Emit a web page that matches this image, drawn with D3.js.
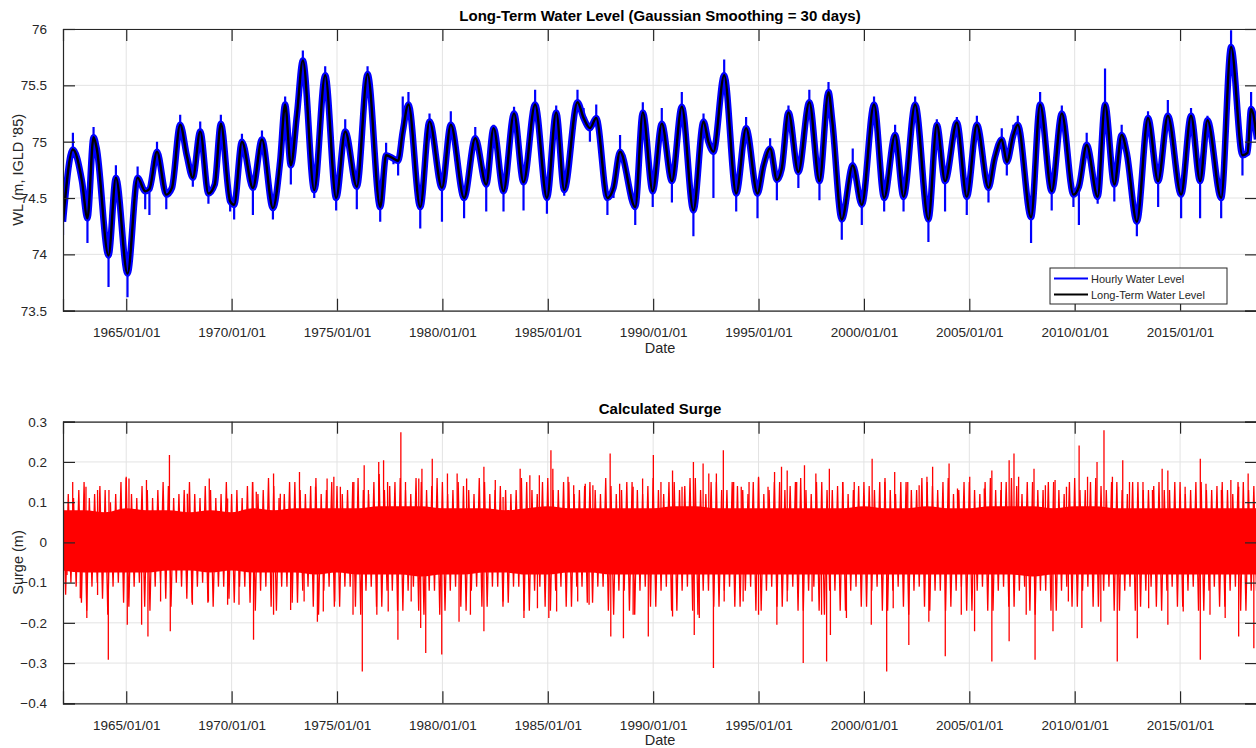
<!DOCTYPE html>
<html>
<head>
<meta charset="utf-8">
<script src="https://cdn.jsdelivr.net/npm/d3@7/dist/d3.min.js"></script>
<style>
  html, body { margin: 0; padding: 0; background: #fff; }
  svg { display: block; font-family: "Liberation Sans", Arial, sans-serif; }
</style>
</head>
<body>
<svg id="chart" width="1256" height="748"></svg>
<script>
// ---------------- DATA ----------------
const xTickYears = [1965, 1970, 1975, 1980, 1985, 1990, 1995, 2000, 2005, 2010, 2015];
const wlTicks = [73.5, 74, 74.5, 75, 75.5, 76];
const surgeTicks = [-0.4, -0.3, -0.2, -0.1, 0, 0.1, 0.2, 0.3];

// Long-term (smoothed) water level key points (decimal year, m)
const ltYears = [1962.00,1962.47,1962.90,1963.16,1963.45,1963.60,1964.16,1964.51,1965.06,1965.54,1965.90,1966.10,1966.46,1966.90,1967.17,1967.56,1967.88,1968.16,1968.51,1968.90,1969.20,1969.49,1969.93,1970.12,1970.49,1971.01,1971.44,1971.96,1972.30,1972.54,1972.81,1973.10,1973.38,1973.92,1974.44,1974.96,1975.39,1975.94,1976.45,1977.05,1977.33,1977.68,1977.90,1978.12,1978.39,1978.95,1979.39,1979.98,1980.40,1981.03,1981.56,1982.08,1982.43,1982.90,1983.40,1983.85,1984.40,1984.96,1985.40,1985.78,1986.41,1986.70,1987.00,1987.30,1987.83,1988.12,1988.43,1989.15,1989.51,1989.98,1990.41,1990.89,1991.36,1991.91,1992.39,1992.62,1992.86,1993.37,1993.94,1994.41,1994.95,1995.24,1995.55,1995.87,1996.10,1996.42,1996.89,1997.41,1997.89,1998.32,1998.50,1998.95,1999.47,1999.90,2000.48,2000.96,2001.48,2001.88,2002.43,2003.06,2003.46,2003.85,2004.41,2004.88,2005.36,2005.91,2006.20,2006.54,2006.78,2007.09,2007.30,2007.93,2008.36,2008.91,2009.39,2009.94,2010.20,2010.57,2011.09,2011.44,2011.88,2012.23,2012.47,2012.95,2013.48,2013.96,2014.42,2015.05,2015.52,2015.95,2016.30,2016.95,2017.42,2017.96,2018.20,2018.37,2018.65];
const ltLevel = [74.29,74.93,74.65,74.32,75.04,74.94,73.99,74.68,73.83,74.68,74.56,74.58,74.91,74.53,74.59,75.15,74.87,74.68,75.09,74.54,74.62,75.16,74.47,74.44,75.00,74.59,75.02,74.41,74.82,75.33,74.79,75.24,75.72,74.57,75.59,74.50,75.09,74.60,75.60,74.42,74.88,74.85,74.83,75.09,75.33,74.42,75.18,74.59,75.15,74.50,75.03,74.62,75.12,74.56,75.25,74.64,75.33,74.50,75.26,74.57,75.35,75.21,75.12,75.21,74.50,74.59,74.91,74.42,75.26,74.56,75.16,74.65,75.31,74.39,75.18,75.00,74.91,75.59,74.54,75.12,74.54,74.79,74.94,74.66,74.76,75.26,74.73,75.35,74.65,75.44,75.18,74.31,74.79,74.44,75.33,74.50,75.06,74.51,75.33,74.31,75.15,74.65,75.17,74.51,75.15,74.59,74.85,75.02,74.82,75.06,75.15,74.33,75.33,74.56,75.25,74.53,74.60,74.97,74.51,75.33,74.62,75.06,74.90,74.29,75.21,74.65,75.23,74.53,75.23,74.65,75.19,74.50,75.84,74.88,74.90,75.29,75.02];
// Hourly water level extremes reached near the same dates (m)
const hourlyLevel = [74.17,75.08,74.65,74.10,75.13,74.94,73.71,74.79,73.62,74.78,74.40,74.35,75.00,74.40,74.55,75.24,74.87,74.60,75.18,74.45,74.62,75.24,74.38,74.31,75.07,74.35,75.10,74.31,74.82,75.40,74.62,75.30,75.81,74.50,75.67,74.39,75.20,74.40,75.67,74.29,74.99,74.80,74.70,75.40,75.44,74.23,75.25,74.29,75.27,74.32,75.13,74.38,75.15,74.38,75.31,74.39,75.46,74.36,75.32,74.52,75.46,75.30,75.00,75.33,74.35,74.50,75.06,74.26,75.35,74.42,75.30,74.46,75.44,74.16,75.25,75.00,74.50,75.73,74.38,75.22,74.32,74.79,75.03,74.48,74.76,75.32,74.59,75.46,74.48,75.53,75.18,74.13,74.94,74.26,75.40,74.38,75.15,74.38,75.40,74.11,75.20,74.38,75.22,74.35,75.23,74.46,74.85,75.12,74.70,75.15,75.23,74.10,75.44,74.39,75.32,74.42,74.26,75.08,74.45,75.65,74.47,75.15,74.90,74.16,75.27,74.42,75.37,74.32,75.30,74.32,75.23,74.32,75.99,74.70,74.90,75.44,75.00];

// Surge: solid core, yearly from 1962 (m)
const surgeCoreStart = 1962, surgeCoreStep = 1;
const surgeCoreHi = [0.08,0.08,0.075,0.085,0.08,0.08,0.075,0.08,0.075,0.085,0.08,0.085,0.085,0.085,0.085,0.09,0.09,0.09,0.085,0.085,0.085,0.08,0.085,0.09,0.085,0.085,0.085,0.085,0.085,0.09,0.09,0.085,0.085,0.085,0.085,0.085,0.085,0.085,0.09,0.085,0.085,0.09,0.085,0.085,0.09,0.09,0.09,0.085,0.09,0.09,0.085,0.085,0.085,0.085,0.085,0.085,0.085,0.085];
const surgeCoreLo = [-0.07,-0.075,-0.075,-0.075,-0.075,-0.07,-0.07,-0.075,-0.07,-0.075,-0.075,-0.075,-0.08,-0.075,-0.08,-0.08,-0.08,-0.085,-0.08,-0.08,-0.075,-0.075,-0.08,-0.08,-0.075,-0.075,-0.08,-0.08,-0.08,-0.08,-0.08,-0.08,-0.08,-0.08,-0.08,-0.08,-0.08,-0.08,-0.08,-0.08,-0.08,-0.08,-0.08,-0.08,-0.08,-0.08,-0.085,-0.08,-0.08,-0.08,-0.08,-0.08,-0.08,-0.08,-0.08,-0.08,-0.08,-0.08];

// Surge: oscillation envelope, quarter-yearly from 1962.00 (m)
const surgeEnvStart = 1962.0, surgeEnvStep = 0.25;
const surgeEnvHi = [
 .14,.12,.11,.13, .15,.11,.12,.14, .13,.10,.12,.15, .16,.12,.11,.14, .13,.11,.13,.15, .14,.11,.12,.13, .15,.12,.11,.14, .13,.11,.12,.15,
 .12,.13,.11,.14, .15,.12,.13,.16, .14,.11,.12,.15, .15,.13,.12,.14, .16,.12,.13,.15, .14,.12,.13,.15, .16,.13,.12,.15, .17,.13,.14,.15,
 .16,.13,.12,.16, .15,.13,.14,.16, .15,.12,.13,.15, .14,.13,.12,.16, .15,.12,.13,.14, .13,.12,.13,.16, .15,.13,.12,.15, .16,.13,.13,.15,
 .15,.12,.13,.14, .15,.13,.12,.16, .14,.12,.13,.15, .15,.13,.12,.14, .16,.13,.12,.15, .15,.13,.14,.16, .16,.13,.12,.15, .15,.13,.13,.15,
 .14,.13,.12,.15, .16,.12,.13,.15, .15,.13,.14,.15, .16,.13,.12,.15, .15,.13,.13,.14, .15,.12,.13,.14, .15,.14,.13,.15, .16,.13,.12,.15,
 .15,.13,.13,.16, .15,.14,.13,.15, .16,.12,.13,.15, .15,.13,.12,.15, .16,.13,.13,.15, .16,.14,.12,.15, .15,.13,.13,.15, .15,.13,.12,.15,
 .16,.13,.13,.15, .16,.14,.13,.15, .15,.13,.12,.15, .15,.13,.13,.14, .15,.13,.13,.15, .15,.12,.13,.15, .15,.13,.13,.14, .15,.13,.12,.15,
 .15,.13,.14];
const surgeEnvLo = [
 -.13,-.10,-.11,-.15, -.17,-.11,-.10,-.14, -.18,-.11,-.10,-.15, -.16,-.11,-.10,-.16, -.17,-.11,-.10,-.14, -.16,-.10,-.11,-.14, -.15,-.11,-.10,-.15, -.16,-.11,-.11,-.14,
 -.15,-.11,-.11,-.15, -.17,-.12,-.11,-.16, -.17,-.11,-.11,-.15, -.15,-.12,-.11,-.16, -.18,-.12,-.11,-.16, -.16,-.11,-.11,-.16, -.18,-.12,-.11,-.16, -.16,-.12,-.12,-.17,
 -.17,-.12,-.11,-.17, -.18,-.12,-.12,-.18, -.17,-.12,-.11,-.16, -.17,-.12,-.11,-.16, -.16,-.11,-.11,-.16, -.15,-.11,-.11,-.17, -.17,-.12,-.11,-.16, -.17,-.12,-.11,-.16,
 -.16,-.11,-.11,-.15, -.15,-.11,-.11,-.17, -.18,-.12,-.12,-.17, -.18,-.12,-.11,-.16, -.16,-.12,-.11,-.17, -.17,-.12,-.11,-.17, -.18,-.12,-.12,-.16, -.16,-.12,-.11,-.16,
 -.16,-.12,-.11,-.17, -.17,-.12,-.11,-.16, -.16,-.12,-.11,-.17, -.17,-.12,-.11,-.17, -.18,-.12,-.12,-.17, -.17,-.12,-.11,-.16, -.16,-.12,-.11,-.17, -.17,-.12,-.11,-.16,
 -.18,-.12,-.11,-.16, -.17,-.12,-.12,-.17, -.16,-.12,-.11,-.17, -.17,-.12,-.11,-.17, -.17,-.12,-.11,-.16, -.16,-.12,-.11,-.17, -.18,-.12,-.12,-.17, -.17,-.12,-.11,-.16,
 -.16,-.12,-.11,-.16, -.16,-.12,-.11,-.17, -.17,-.12,-.11,-.17, -.16,-.12,-.11,-.16, -.17,-.12,-.11,-.16, -.16,-.12,-.11,-.17, -.17,-.12,-.11,-.16, -.16,-.12,-.11,-.17,
 -.17,-.12,-.12];

// Surge: prominent individual spikes [decimal year, m]
const surgeSpikeYears = [1962.46,1963.09,1963.64,1964.18,1965.00,1965.13,1965.96,1967.05,1967.90,1968.94,1969.81,1970.99,1971.17,1971.99,1972.31,1973.22,1973.98,1974.53,1974.85,1975.16,1975.80,1976.29,1976.49,1976.98,1977.21,1977.40,1978.03,1978.25,1978.88,1979.03,1979.52,1980.24,1980.70,1981.15,1981.97,1982.51,1982.88,1983.69,1984.15,1984.60,1985.15,1985.24,1985.96,1986.23,1986.78,1987.14,1987.96,1988.41,1989.05,1989.50,1990.01,1990.37,1990.92,1991.37,1991.91,1992.37,1992.64,1993.00,1993.33,1993.82,1994.18,1994.55,1995.00,1995.45,1995.76,1996.09,1996.36,1996.81,1997.18,1997.72,1998.36,1998.99,1999.54,1999.99,2000.39,2000.99,2001.46,2002.08,2002.62,2002.99,2003.26,2004.04,2004.44,2005.02,2005.71,2006.07,2006.52,2006.89,2007.12,2007.34,2008.07,2008.61,2009.07,2009.61,2010.21,2010.61,2011.06,2011.39,2011.79,2012.28,2012.60,2013.24,2013.69,2014.15,2014.42,2015.24,2015.96,2016.23,2016.96,2017.41,2017.78,2018.23,
  1962.19,1962.82,1963.13,1963.64,1964.15,1965.05,1965.73,1966.03,1966.63,1967.09,1968.14,1968.90,1969.81,1970.35,1971.04,1971.99,1972.80,1973.44,1974.07,1974.35,1974.89,1975.76,1976.20,1976.89,1977.43,1977.89,1978.52,1978.97,1979.21,1979.97,1980.79,1981.33,1981.97,1982.88,1983.87,1984.51,1985.05,1985.42,1986.42,1986.96,1987.99,1988.59,1989.05,1989.77,1990.92,1991.95,1992.19,1992.86,1993.37,1994.27,1995.00,1995.87,1996.36,1997.12,1997.54,1997.99,1998.23,1998.41,1999.17,2000.35,2001.08,2001.39,2002.13,2003.08,2003.86,2004.62,2005.25,2006.07,2006.89,2007.70,2008.12,2008.97,2009.70,2010.34,2011.24,2012.02,2012.97,2013.51,2014.42,2015.15,2015.96,2016.42,2017.14,2017.78,2018.50];
const surgeSpikeValues = [0.150,0.138,0.130,0.130,0.163,0.159,0.155,0.217,0.121,0.159,0.109,0.150,0.126,0.171,0.121,0.175,0.138,0.159,0.163,0.138,0.150,0.192,0.130,0.200,0.204,0.150,0.274,0.150,0.159,0.183,0.208,0.171,0.171,0.159,0.188,0.155,0.113,0.183,0.167,0.167,0.229,0.183,0.163,0.142,0.146,0.142,0.221,0.146,0.138,0.159,0.217,0.150,0.179,0.138,0.200,0.196,0.171,0.171,0.229,0.150,0.138,0.150,0.163,0.138,0.175,0.188,0.179,0.150,0.192,0.171,0.183,0.150,0.150,0.117,0.208,0.150,0.175,0.150,0.142,0.163,0.188,0.196,0.134,0.163,0.134,0.179,0.150,0.204,0.221,0.163,0.183,0.142,0.155,0.138,0.241,0.163,0.200,0.279,0.163,0.204,0.150,0.150,0.130,0.183,0.179,0.138,0.208,0.146,0.130,0.155,0.138,0.171,
  -0.081,-0.139,-0.188,-0.131,-0.292,-0.205,-0.205,-0.234,-0.147,-0.221,-0.155,-0.147,-0.155,-0.155,-0.242,-0.180,-0.168,-0.147,-0.197,-0.172,-0.147,-0.180,-0.321,-0.180,-0.172,-0.242,-0.147,-0.213,-0.275,-0.279,-0.197,-0.180,-0.221,-0.147,-0.188,-0.164,-0.188,-0.172,-0.147,-0.155,-0.234,-0.238,-0.180,-0.234,-0.184,-0.230,-0.188,-0.312,-0.147,-0.147,-0.180,-0.205,-0.147,-0.300,-0.147,-0.180,-0.296,-0.230,-0.188,-0.205,-0.321,-0.164,-0.255,-0.197,-0.283,-0.180,-0.221,-0.296,-0.246,-0.180,-0.292,-0.221,-0.147,-0.213,-0.197,-0.296,-0.238,-0.164,-0.205,-0.172,-0.292,-0.180,-0.188,-0.234,-0.263];

// ---------------- LAYOUT ----------------
const svg = d3.select("#chart");
const W = 1256, H = 748;
const left = 63, right = 1257;
const top1 = 29, bot1 = 310.7;
const top2 = 421.7, bot2 = 703.3;
const axisColor = "#262626";
const gridColor = "#e3e3e3";
const tickLen = 12;

svg.append("rect").attr("width", W).attr("height", H).attr("fill", "#fff");

const x = d3.scaleLinear().domain([1962.0, 2018.65]).range([left, right]);
const y1 = d3.scaleLinear().domain([73.5, 76]).range([bot1, top1]);
const y2 = d3.scaleLinear().domain([-0.4, 0.3]).range([bot2, top2]);

const defs = svg.append("defs");
defs.append("clipPath").attr("id", "c1").append("rect")
  .attr("x", left).attr("y", top1).attr("width", right - left).attr("height", bot1 - top1);
defs.append("clipPath").attr("id", "c2").append("rect")
  .attr("x", left).attr("y", top2).attr("width", right - left).attr("height", bot2 - top2);

function panel(yScale, yTicks, top, bot, clipId, title, ylabel, yFmt) {
  const g = svg.append("g");
  g.append("g").selectAll("line").data(xTickYears).join("line")
    .attr("x1", d => x(d)).attr("x2", d => x(d)).attr("y1", top).attr("y2", bot)
    .attr("stroke", gridColor).attr("stroke-width", 1);
  g.append("g").selectAll("line").data(yTicks).join("line")
    .attr("x1", left).attr("x2", right).attr("y1", d => yScale(d)).attr("y2", d => yScale(d))
    .attr("stroke", gridColor).attr("stroke-width", 1);
  const data = svg.append("g").attr("clip-path", `url(#${clipId})`);
  const frame = svg.append("g").attr("class", "frame");
  const xb = d3.axisBottom(x).tickValues(xTickYears).tickSize(-tickLen).tickPadding(tickLen + 5)
    .tickFormat(d => d + "/01/01");
  frame.append("g").attr("transform", `translate(0,${bot})`).call(xb);
  const xt = d3.axisTop(x).tickValues(xTickYears).tickSize(-tickLen).tickFormat("");
  frame.append("g").attr("transform", `translate(0,${top})`).call(xt);
  const yl = d3.axisLeft(yScale).tickValues(yTicks).tickSize(-tickLen).tickPadding(tickLen + 4)
    .tickFormat(yFmt);
  frame.append("g").attr("transform", `translate(${left},0)`).call(yl);
  const yr = d3.axisRight(yScale).tickValues(yTicks).tickSize(-tickLen).tickFormat("");
  frame.append("g").attr("transform", `translate(${right},0)`).call(yr);
  frame.selectAll(".domain").attr("stroke", axisColor).attr("stroke-width", 1.2);
  frame.selectAll(".tick line").attr("stroke", axisColor).attr("stroke-width", 1.2);
  frame.selectAll(".tick text").attr("fill", axisColor).style("font-size", "13.5px")
    .style("font-family", "Liberation Sans, Arial, sans-serif");
  svg.append("text").attr("x", (left + right) / 2).attr("y", top - 8)
    .attr("text-anchor", "middle").attr("font-weight", "bold").attr("font-size", "15px")
    .attr("fill", "#000").text(title);
  svg.append("text").attr("x", (left + right) / 2).attr("y", bot + 42)
    .attr("text-anchor", "middle").attr("font-size", "14.5px").attr("fill", axisColor).text("Date");
  svg.append("text").attr("transform", `translate(23,${(top + bot) / 2}) rotate(-90)`)
    .attr("text-anchor", "middle").attr("font-size", "14.5px").attr("fill", axisColor).text(ylabel);
  return { data, frame };
}

// -------- Top panel --------
const p1 = panel(y1, wlTicks, top1, bot1, "c1",
  "Long-Term Water Level (Gaussian Smoothing = 30 days)", "WL (m, IGLD '85)", d => d3.format("")(d));

const ltPts = ltYears.map((t, i) => [t, ltLevel[i]]);
const smoothLine = d3.line().x(d => x(d[0])).y(d => y1(d[1])).curve(d3.curveMonotoneX);

// hourly band around the long-term path
p1.data.append("path").datum(ltPts).attr("d", smoothLine)
  .attr("fill", "none").attr("stroke", "#0000ff").attr("stroke-width", 6.5).attr("stroke-linejoin", "round");
// hourly extremes
p1.data.append("g").selectAll("line").data(ltYears.map((t, i) => [t, ltLevel[i], hourlyLevel[i]])).join("line")
  .attr("x1", d => x(d[0])).attr("x2", d => x(d[0]))
  .attr("y1", d => y1(d[1])).attr("y2", d => y1(d[2]))
  .attr("stroke", "#0000ff").attr("stroke-width", 2.2);
// long-term line
p1.data.append("path").datum(ltPts).attr("d", smoothLine)
  .attr("fill", "none").attr("stroke", "#000").attr("stroke-width", 2.4);

// legend
const lg = svg.append("g");
lg.append("rect").attr("x", 1050).attr("y", 268).attr("width", 177).attr("height", 36)
  .attr("fill", "#fff").attr("stroke", axisColor).attr("stroke-width", 1);
[["Hourly Water Level", "#0000ff"], ["Long-Term Water Level", "#000"]].forEach((it, i) => {
  const yy = 278.5 + i * 16;
  lg.append("line").attr("x1", 1054).attr("x2", 1088).attr("y1", yy).attr("y2", yy)
    .attr("stroke", it[1]).attr("stroke-width", 2);
  lg.append("text").attr("x", 1091).attr("y", yy + 4).attr("font-size", "11px")
    .attr("fill", axisColor).text(it[0]);
});

// -------- Bottom panel --------
const p2 = panel(y2, surgeTicks, top2, bot2, "c2", "Calculated Surge", "Surge (m)",
  d => d3.format("")(Math.round(d * 10) / 10));

const corePts = surgeCoreHi.map((h, i) => [surgeCoreStart + i * surgeCoreStep, h, surgeCoreLo[i]]);
p2.data.append("path").datum(corePts)
  .attr("d", d3.area().x(d => x(d[0])).y0(d => y2(d[2])).y1(d => y2(d[1])).curve(d3.curveMonotoneX))
  .attr("fill", "#ff0000");

const envPts = [];
surgeEnvHi.forEach((h, i) => {
  const t = surgeEnvStart + i * surgeEnvStep;
  envPts.push([t, h]);
  envPts.push([t + surgeEnvStep / 2, surgeEnvLo[i]]);
});
p2.data.append("path").datum(envPts)
  .attr("d", d3.line().x(d => x(d[0])).y(d => y2(d[1])))
  .attr("fill", "none").attr("stroke", "#ff0000").attr("stroke-width", 1.3);

p2.data.append("g").selectAll("line").data(surgeSpikeYears.map((t, i) => [t, surgeSpikeValues[i]])).join("line")
  .attr("x1", d => x(d[0])).attr("x2", d => x(d[0]))
  .attr("y1", y2(0)).attr("y2", d => y2(d[1]))
  .attr("stroke", "#ff0000").attr("stroke-width", 1.3);
</script>
</body>
</html>
